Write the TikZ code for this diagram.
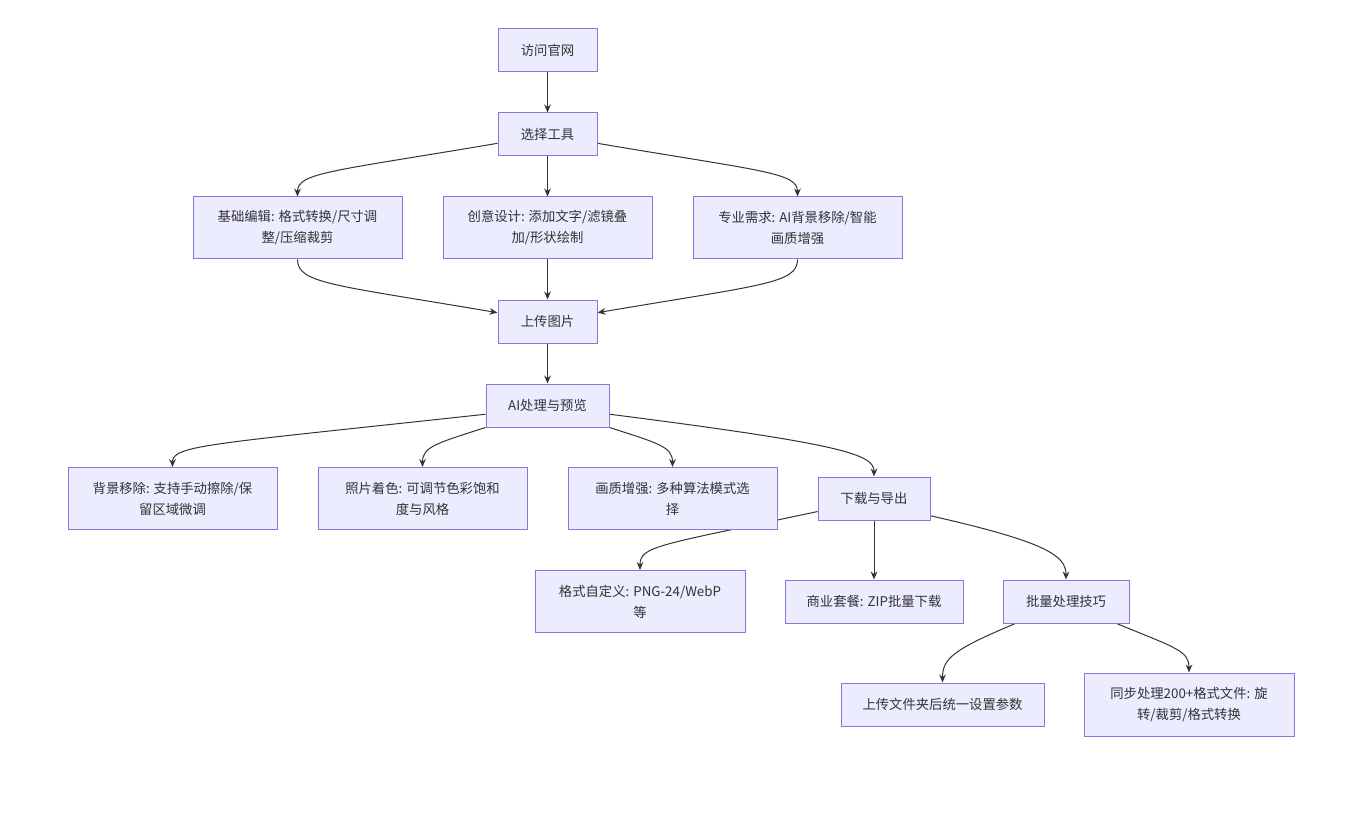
\documentclass[tikz,border=0pt]{standalone}
\usepackage{fontspec}
\setmainfont{Noto Sans CJK SC}
\usetikzlibrary{arrows.meta,backgrounds}
\definecolor{boxfill}{HTML}{ECECFF}
\definecolor{boxline}{HTML}{9370DB}
\definecolor{ink}{HTML}{333333}
\tikzset{
  box/.style={draw=boxline, fill=boxfill, line width=0.75pt, inner sep=0pt, align=center,
    minimum height=32.25pt, text=ink, font=\fontsize{10}{15.75}\selectfont},
  wide/.style={box, minimum width=156.75pt, minimum height=46.5pt},
  edge/.style={draw=ink, line width=0.75pt, -{Stealth[length=6pt,width=5pt]}}
}
\begin{document}
\begin{tikzpicture}[x=0.75pt,y=-0.75pt]
				\useasboundingbox (0,0) rectangle (1345,827);
				\node[box,minimum width=74.25pt] (visit) at (547.5,50.5) {访问官网};
				\node[box,minimum width=74.25pt] (pick) at (547.5,134.5) {选择工具};
				\node[wide] (basic) at (297.5,228) {基础编辑: 格式转换/尺寸调\\整/压缩裁剪};
				\node[wide] (creative) at (547.5,228) {创意设计: 添加文字/滤镜叠\\加/形状绘制};
				\node[wide] (pro) at (797.5,228) {专业需求: AI背景移除/智能\\画质增强};
				\node[box,minimum width=74.25pt] (upload) at (547.5,321.5) {上传图片};
				\node[box,minimum width=92.25pt] (ai) at (547.5,405.5) {AI处理与预览};
				\node[wide] (bgremove) at (172.5,498.5) {背景移除: 支持手动擦除/保\\留区域微调};
				\node[wide] (colorize) at (422.5,498.5) {照片着色: 可调节色彩饱和\\度与风格};
				\node[wide] (enhance) at (672.5,498.5) {画质增强: 多种算法模式选\\择};
				\node[box,minimum width=84pt] (export) at (874,498.5) {下载与导出};
				\node[wide,minimum width=157.5pt] (format) at (640,601.5) {格式自定义: PNG-24/WebP\\等};
				\node[box,minimum width=133.5pt] (business) at (874,601.5) {商业套餐: ZIP批量下载};
				\node[box,minimum width=94.5pt] (batch) at (1066,601.5) {批量处理技巧};
				\node[box,minimum width=152.25pt] (folder) at (942.5,704.5) {上传文件夹后统一设置参数};
				\node[wide,minimum width=157.5pt,minimum height=47.25pt] (sync) at (1189,704.5) {同步处理200+格式文件: 旋\\转/裁剪/格式转换};
				% connectors, behind the boxes
				\begin{scope}[on background layer]
				\draw[edge] (visit) -- (pick);
				\draw[edge] (pick.190) .. controls +(-165,28) and +(0,-24) .. (basic.north);
				\draw[edge] (pick) -- (creative);
				\draw[edge] (pick.-10) .. controls +(165,28) and +(0,-24) .. (pro.north);
				\draw[edge] (basic.south) .. controls +(0,24) and +(-165,-28) .. (upload.170);
				\draw[edge] (creative) -- (upload);
				\draw[edge] (pro.south) .. controls +(0,24) and +(165,-28) .. (upload.10);
				\draw[edge] (upload) -- (ai);
				\draw[edge] (ai.188) .. controls +(-275,30) and +(0,-22) .. (bgremove.north);
				\draw[edge] (ai.south west) .. controls +(-50,16) and +(0,-20) .. (colorize.north);
				\draw[edge] (ai.south east) .. controls +(50,16) and +(0,-20) .. (enhance.north);
				\draw[edge] (ai.-8) .. controls +(235,30) and +(0,-22) .. (export.north);
				\draw[edge] (export.193) .. controls +(-160,34) and +(0,-24) .. (format.north);
				\draw[edge] (export) -- (business);
				\draw[edge] (export.-17) .. controls +(115,26) and +(0,-24) .. (batch.north);
				\draw[edge] ([xshift=-38pt]batch.south) .. controls +(-62,26) and +(0,-24) .. (folder.north);
				\draw[edge] ([xshift=38pt]batch.south) .. controls +(58,24) and +(0,-22) .. (sync.north);
				\end{scope}
			\end{tikzpicture}
\end{document}
